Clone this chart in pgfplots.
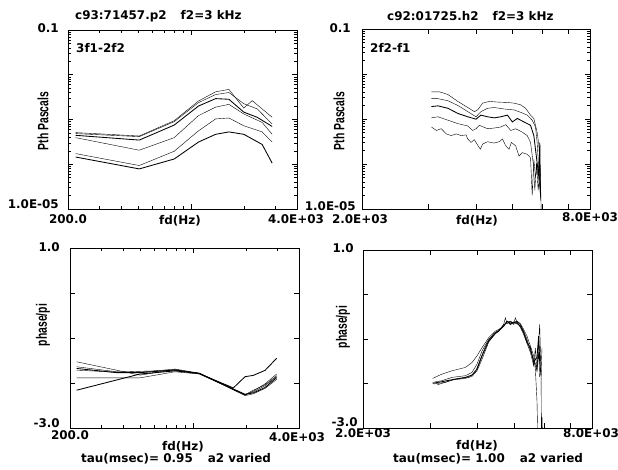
\documentclass[border=0pt]{standalone}
\usepackage{fontspec}
\setmainfont{DejaVu Sans}
\newfontfamily\libs{Liberation Sans}
\usepackage{graphicx}
\usepackage{pgfplots}
\pgfplotsset{compat=1.18}
\newcommand\fT{\fontsize{12}{14}\selectfont\bfseries}
\newcommand\yl[1]{\scalebox{1}[1.45]{\libs\bfseries\fontsize{10.4}{12}\selectfont #1}}
\pgfplotsset{
  panel/.style={scale only axis, anchor=south west, tick align=inside,
    axis line style={line width=0.8bp},
    major tick length=5bp, minor tick length=3bp,
    every tick/.style={black, line width=0.6bp},
    every minor tick/.style={black, line width=0.5bp},
    xticklabels={}, yticklabels={},
    cycle list={{black, solid, line width=0.85bp}}, no markers},
}
\begin{document}
\begin{tikzpicture}
\path[use as bounding box] (0bp,0bp) rectangle (618bp,-470bp);
% ---------------- top left
\begin{axis}[panel, xmode=log, ymode=log, xmin=200, xmax=4000, ymin=1e-5, ymax=0.1,
  xtick={1000}, minor xtick={300,400,500,600,700,800,900,2000,3000},
  ytick={1e-4,1e-3,1e-2},
  minor ytick={2e-5,3e-5,4e-5,5e-5,6e-5,7e-5,8e-5,9e-5,2e-4,3e-4,4e-4,5e-4,6e-4,7e-4,8e-4,9e-4,2e-3,3e-3,4e-3,5e-3,6e-3,7e-3,8e-3,9e-3,2e-2,3e-2,4e-2,5e-2,6e-2,7e-2,8e-2,9e-2},
  at={(68bp,-209bp)}, width=229bp, height=179bp]
\addplot coordinates {(221,5.10e-4) (508,4.28e-4) (802,9.40e-4) (1102,2.59e-3) (1380,4.16e-3) (1641,4.70e-3) (1995,1.80e-3) (2226,2.64e-3) (2890,1.12e-3)};
\addplot coordinates {(221,4.84e-4) (508,4.14e-4) (802,8.93e-4) (1102,2.38e-3) (1380,3.61e-3) (1641,4.01e-3) (1995,2.25e-3) (2376,1.73e-3) (2890,7.90e-4)};
\addplot coordinates {(221,4.43e-4) (508,3.47e-4) (802,7.50e-4) (1102,2.00e-3) (1380,2.93e-3) (1641,2.83e-3) (1995,1.46e-3) (2376,1.12e-3) (2890,6.99e-4)};
\addplot coordinates {(221,3.93e-4) (508,2.06e-4) (802,3.93e-4) (1102,1.22e-3) (1380,1.89e-3) (1641,2.18e-3) (1995,1.33e-3) (2535,8.61e-4) (2890,4.67e-4)};
\addplot coordinates {(221,1.73e-4) (508,9.37e-5) (802,1.95e-4) (1102,5.57e-4) (1380,1.03e-3) (1641,1.08e-3) (1995,7.24e-4) (2535,5.28e-4) (2890,3.13e-4)};
\addplot coordinates {(221,1.45e-4) (508,7.87e-5) (802,1.31e-4) (1102,3.13e-4) (1380,4.67e-4) (1641,5.28e-4) (1995,4.67e-4) (2535,2.77e-4) (2890,1.06e-4)};
\end{axis}
% ---------------- top right
\begin{axis}[panel, xmode=log, ymode=log, xmin=2000, xmax=8000, ymin=1e-5, ymax=0.1,
  xtick={3000,4000,5000,6000,7000},
  ytick={1e-4,1e-3,1e-2},
  minor ytick={2e-5,3e-5,4e-5,5e-5,6e-5,7e-5,8e-5,9e-5,2e-4,3e-4,4e-4,5e-4,6e-4,7e-4,8e-4,9e-4,2e-3,3e-3,4e-3,5e-3,6e-3,7e-3,8e-3,9e-3,2e-2,3e-2,4e-2,5e-2,6e-2,7e-2,8e-2,9e-2},
  at={(362bp,-209bp)}, width=228bp, height=180bp]
\addplot coordinates {(3050,4.01e-3) (3207,4.01e-3) (3372,3.49e-3) (3581,2.46e-3) (3804,1.80e-3) (3960,1.46e-3) (4040,1.59e-3) (4164,2.25e-3) (4335,2.46e-3) (4558,2.38e-3) (4841,2.33e-3) (5040,2.25e-3) (5246,2.07e-3) (5407,1.73e-3) (5572,1.22e-3) (5685,1.03e-3) (5800,5.10e-4) (5859,2.77e-4) (5919,5.26e-5) (5978,1e-6)};
\addplot coordinates {(3050,2.83e-3) (3175,2.83e-3) (3372,2.55e-3) (3581,2.00e-3) (3804,1.46e-3) (4000,1.12e-3) (4122,1.46e-3) (4291,1.73e-3) (4467,1.80e-3) (4745,1.67e-3) (5040,1.59e-3) (5246,1.41e-3) (5461,1.22e-3) (5629,9.40e-4) (5743,6.64e-4) (5800,3.02e-4) (5859,7.46e-5) (5919,1.85e-5)};
\addplot coordinates {(3050,1.89e-3) (3175,1.96e-3) (3372,1.73e-3) (3581,1.33e-3) (3804,1.12e-3) (4000,9.91e-4) (4122,1.22e-3) (4291,1.12e-3) (4467,1.06e-3) (4650,1.12e-3) (4841,1.22e-3) (4989,8.61e-4) (5142,1.03e-3) (5353,8.61e-4) (5572,7.24e-4) (5685,4.28e-4) (5800,1.06e-4) (5859,5.26e-5) (5895,3.0e-4) (5919,2.01e-5)};
\addplot coordinates {(3050,1.06e-3) (3175,1.12e-3) (3372,9.40e-4) (3581,7.90e-4) (3804,6.99e-4) (3920,5.57e-4) (4000,6.08e-4) (4081,7.24e-4) (4291,6.08e-4) (4467,6.30e-4) (4650,6.64e-4) (4793,7.50e-4) (4939,5.57e-4) (5090,6.08e-4) (5299,5.10e-4) (5461,4.28e-4) (5572,3.02e-4) (5662,1.06e-4) (5720,2.61e-5) (5777,1.06e-4) (5836,2.61e-5) (5895,6.27e-5) (5930,1.5e-5)};
\addplot coordinates {(3050,6.64e-4) (3143,5.57e-4) (3239,6.08e-4) (3338,4.67e-4) (3441,4.28e-4) (3546,4.67e-4) (3654,4.28e-4) (3766,4.44e-4) (3804,3.60e-4) (3881,3.02e-4) (3960,3.47e-4) (4040,2.63e-4) (4106,2.13e-4) (4164,2.77e-4) (4291,3.13e-4) (4378,3.02e-4) (4467,2.92e-4) (4604,3.13e-4) (4698,3.60e-4) (4793,2.54e-4) (4890,2.13e-4) (4959,3.02e-4) (5090,2.54e-4) (5194,1.50e-4) (5299,1.79e-4) (5461,1.64e-4) (5572,1.38e-4) (5629,2.01e-5) (5685,1.26e-4) (5743,5.26e-5) (5800,7.46e-5) (5919,2.61e-5)};
\end{axis}
% ---------------- bottom left
\begin{axis}[panel, xmode=log, xmin=200, xmax=4000, ymin=-3, ymax=1,
  xtick={1000}, minor xtick={300,400,500,600,700,800,900,2000,3000},
  ytick={-2,-1,0},
  at={(70bp,-428bp)}, width=229bp, height=180bp]
\addplot coordinates {(218,-1.528) (500,-1.825) (790,-1.70) (1086,-1.79) (1974,-2.27) (2201,-2.18) (2564,-2.02) (2987,-1.80)};
\addplot coordinates {(218,-1.639) (368,-1.75) (500,-1.76) (790,-1.69) (1086,-1.78) (1974,-2.26) (2201,-2.20) (2564,-2.06) (2987,-1.86)};
\addplot coordinates {(218,-1.677) (368,-1.77) (500,-1.77) (790,-1.71) (1086,-1.79) (1974,-2.25) (2201,-2.22) (2564,-2.10) (2987,-1.88)};
\addplot coordinates {(218,-1.714) (368,-1.76) (500,-1.74) (790,-1.72) (1086,-1.78) (1974,-2.28) (2201,-2.24) (2564,-2.12) (2987,-1.92)};
\addplot coordinates {(218,-1.885) (500,-1.885) (790,-1.75) (1086,-1.80) (1974,-2.26) (2201,-2.16) (2564,-2.04) (2987,-1.84)};
\addplot coordinates {(218,-2.16) (500,-1.80) (790,-1.73) (1086,-1.79) (1694,-2.11) (1974,-1.86) (2201,-1.83) (2564,-1.72) (2987,-1.45)};
\end{axis}
% ---------------- bottom right
\begin{axis}[panel, xmode=log, xmin=2000, xmax=8000, ymin=-3, ymax=1,
  xtick={3000,4000,5000,6000,7000},
  ytick={-2,-1,0},
  at={(363bp,-428bp)}, width=229bp, height=178bp]
\addplot coordinates {(3049,-1.885) (3226,-1.788) (3428,-1.714) (3716,-1.639) (3869,-1.528) (3988,-1.379) (4111,-1.193) (4280,-0.970) (4456,-0.822) (4547,-0.784) (4687,-0.710) (4782,-0.599) (4880,-0.651) (4979,-0.621) (5081,-0.599) (5184,-0.651) (5290,-0.784) (5398,-0.933) (5508,-1.156) (5620,-1.379) (5677,-1.677) (5734,-2.4) (5769,-3.5)};
\addplot coordinates {(3049,-1.974) (3226,-1.937) (3428,-1.862) (3716,-1.825) (3869,-1.751) (3988,-1.565) (4111,-1.268) (4280,-1.007) (4456,-0.859) (4547,-0.822) (4687,-0.673) (4734,-0.524) (4782,-0.651) (4880,-0.621) (4979,-0.651) (5030,-0.524) (5081,-0.621) (5184,-0.673) (5290,-0.822) (5398,-1.007) (5508,-1.268) (5620,-1.454) (5734,-1.639) (5828,-0.673) (5875,-1.751) (5911,-1.2)};
\addplot coordinates {(3049,-1.996) (3226,-1.959) (3428,-1.914) (3716,-1.862) (3869,-1.810) (3988,-1.677) (4111,-1.379) (4280,-1.045) (4456,-0.874) (4547,-0.822) (4687,-0.710) (4782,-0.599) (4880,-0.673) (4979,-0.621) (5081,-0.651) (5184,-0.710) (5290,-0.859) (5398,-1.082) (5508,-1.193) (5620,-1.528) (5734,-1.4) (5792,-0.933) (5828,-1.5) (5875,-1.82)};
\addplot coordinates {(3130,-2.033) (3226,-1.996) (3428,-1.922) (3716,-1.885) (3869,-1.840) (3988,-1.714) (4111,-1.454) (4280,-1.067) (4456,-0.881) (4547,-0.822) (4687,-0.673) (4782,-0.651) (4880,-0.599) (4979,-0.673) (5081,-0.621) (5184,-0.740) (5290,-0.900) (5398,-1.10) (5508,-1.30) (5620,-1.60) (5677,-1.2) (5734,-1.75) (5792,-1.05) (5875,-1.55) (5890,-3.2) (5911,-2.75) (5930,-3.2)};
\addplot coordinates {(3068,-2.011) (3292,-1.974) (3498,-1.900) (3792,-1.862) (3948,-1.751) (4069,-1.454) (4237,-1.082) (4411,-0.874) (4547,-0.80) (4687,-0.70) (4782,-0.62) (4880,-0.60) (4979,-0.64) (5081,-0.60) (5184,-0.68) (5290,-0.84) (5398,-1.05) (5508,-1.22) (5620,-1.50) (5734,-1.70) (5792,-1.30) (5828,-1.85)};
\end{axis}
% ---------------- texts
\begin{scope}[every node/.style={inner sep=0pt, font=\fT}]
\node[anchor=west] at (75bp,-16bp) {c93:71457.p2\hspace{14bp}f2=3 kHz};
\node[anchor=west] at (387bp,-16bp) {c92:01725.h2\hspace{14bp}f2=3 kHz};
\node[anchor=west] at (76bp,-48bp) {3f1-2f2};
\node[anchor=west] at (370bp,-48bp) {2f2-f1};
\node[anchor=east] at (59bp,-28bp) {0.1};
\node[anchor=east] at (351bp,-28bp) {0.1};
\node[anchor=east] at (59bp,-204bp) {1.0E-05};
\node[anchor=east] at (356bp,-206bp) {1.0E-05};
\node at (68bp,-219bp) {200.0};
\node at (296bp,-219bp) {4.0E+03};
\node at (360bp,-219bp) {2.0E+03};
\node at (590bp,-217bp) {8.0E+03};
\node at (180bp,-221bp) {fd(Hz)};
\node at (477bp,-221bp) {fd(Hz)};
\node[rotate=90] at (43bp,-121bp) {\yl{Pth Pascals}};
\node[rotate=90] at (339bp,-121bp) {\yl{Pth Pascals}};
\node[anchor=east] at (60bp,-247bp) {1.0};
\node[anchor=east] at (354bp,-248bp) {1.0};
\node[anchor=east] at (60bp,-423bp) {-3.0};
\node[anchor=east] at (358bp,-422bp) {-3.0};
\node at (70bp,-435bp) {200.0};
\node at (297bp,-437bp) {4.0E+03};
\node at (363bp,-433bp) {2.0E+03};
\node at (591bp,-433bp) {8.0E+03};
\node at (183bp,-447bp) {fd(Hz)};
\node at (477bp,-446bp) {fd(Hz)};
\node[rotate=90] at (43bp,-325bp) {\yl{phase/pi}};
\node[rotate=90] at (343bp,-327bp) {\yl{phase/pi}};
\node[anchor=west] at (81bp,-459bp) {tau(msec)= 0.95\hspace{15bp}a2 varied};
\node[anchor=west] at (393bp,-459bp) {tau(msec)= 1.00\hspace{15bp}a2 varied};
\end{scope}
\end{tikzpicture}
\end{document}
